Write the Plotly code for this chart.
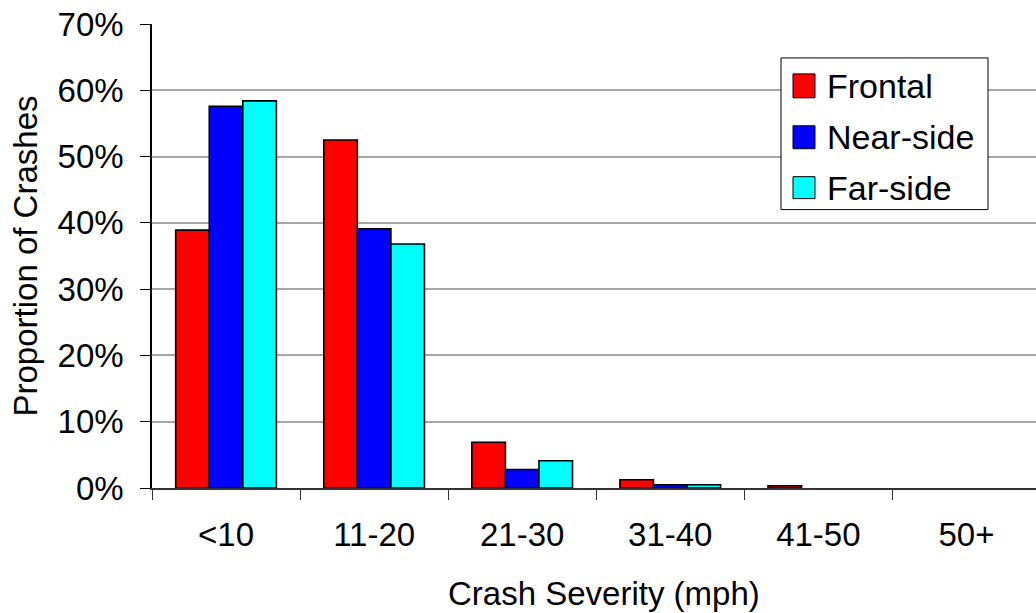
import plotly.graph_objects as go

# Crash severity bands (delta-V, mph)
categories = ["<10", "11-20", "21-30", "31-40", "41-50", "50+"]

# Proportion of crashes in each band, by crash direction
frontal = [0.389, 0.525, 0.069, 0.0125, 0.0035, 0.0]
near_side = [0.576, 0.391, 0.028, 0.005, 0.0, 0.0]
far_side = [0.584, 0.368, 0.041, 0.005, 0.0, 0.0]

series_names = ["Frontal", "Near-side", "Far-side"]
series_values = [frontal, near_side, far_side]
series_colors = ["#FF0000", "#0000FF", "#00FFFF"]

FONT = "Liberation Sans, Arial, sans-serif"
FS = 33

fig = go.Figure()
for name, vals, col in zip(series_names, series_values, series_colors):
    # empty bars get no outline so they don't thicken the baseline
    widths = [1.6 if v > 0 else 0 for v in vals]
    fig.add_trace(go.Bar(
        x=categories, y=vals, name=name,
        marker=dict(color=col, line=dict(color="black", width=widths)),
        showlegend=False,
    ))

# Hand-drawn legend box in the upper right of the plot area
W, H = 884.0, 465.0
def px(x):
    return (x - 152) / W
def py(y):
    return (488 - y) / H

shapes = [dict(type="rect", xref="paper", yref="paper",
               x0=px(781), x1=px(988), y0=py(209), y1=py(57),
               line=dict(color="black", width=1), fillcolor="white", layer="above")]
annotations = []
rows = [(73, 97), (125, 148), (176, 198)]
for (top, bot), name, col in zip(rows, series_names, series_colors):
    shapes.append(dict(type="rect", xref="paper", yref="paper",
                       x0=px(793), x1=px(815), y0=py(bot), y1=py(top),
                       line=dict(color="black", width=1), fillcolor=col, layer="above"))
    annotations.append(dict(xref="paper", yref="paper", x=px(825), y=py((top + bot) / 2),
                            text=name, showarrow=False, xanchor="left", yanchor="middle",
                            font=dict(family=FONT, size=FS + 1, color="black")))

# x-axis title, centred under the full category band
annotations.append(dict(xref="paper", yref="paper", x=px(604), y=py(594),
                        text="Crash Severity (mph)", showarrow=False,
                        xanchor="center", yanchor="middle",
                        font=dict(family=FONT, size=FS, color="black")))

fig.update_layout(
    width=1036, height=613,
    margin=dict(l=152, r=0, t=24, b=125),
    paper_bgcolor="white", plot_bgcolor="white",
    barmode="group", bargap=0.32, bargroupgap=0,
    font=dict(family=FONT, size=FS, color="black"),
    shapes=shapes, annotations=annotations,
    xaxis=dict(
        type="category", range=[-0.5, 5.47],
        tickson="boundaries", ticks="outside", ticklen=10, tickwidth=1.2,
        tickcolor="#333", showline=True, linecolor="#333", linewidth=1.5,
        showgrid=False, ticklabelstandoff=17,
        tickfont=dict(size=FS),
    ),
    yaxis=dict(
        range=[0, 0.7], dtick=0.1, tickformat=".0%",
        ticks="outside", ticklen=10, tickwidth=1.2, tickcolor="black",
        showline=True, linecolor="black", linewidth=1.5,
        showgrid=True, gridcolor="#a6a6a6", gridwidth=1.5,
        zeroline=False, ticklabelstandoff=10,
        tickfont=dict(size=FS),
        title=dict(text="Proportion of Crashes", font=dict(size=FS), standoff=10),
    ),
)

fig.write_html("out.html")
